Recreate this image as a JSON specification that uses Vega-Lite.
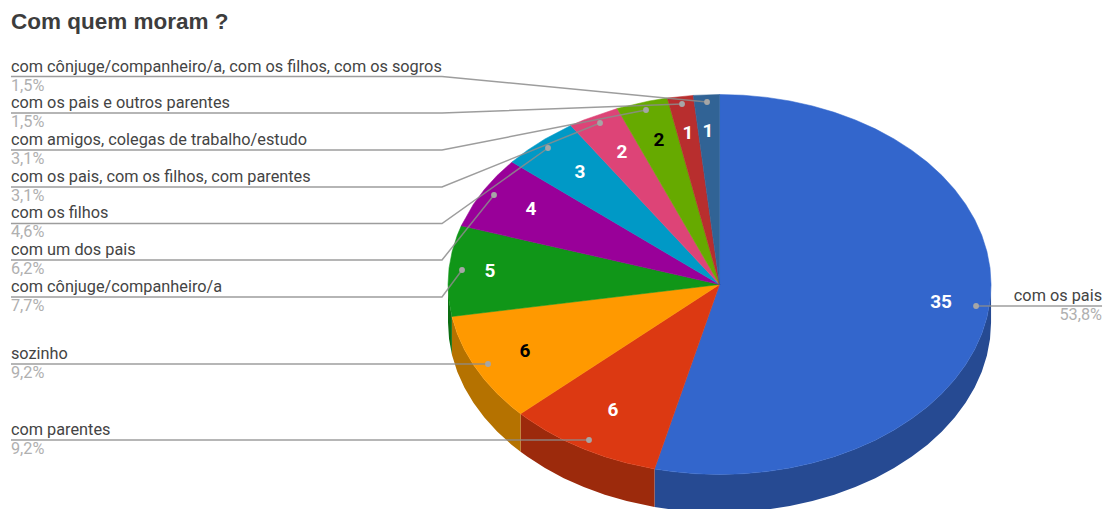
{
"$schema":"https://vega.github.io/schema/vega-lite/v6.json",
"width":1104,"height":509,"padding":0,"autosize":{"type":"none"},"background":"white",
"title":{"text":"Com quem moram ?","anchor":"start","frame":"group","orient":"top","offset":-51,"dx":11,"baseline":"alphabetic","font":"Liberation Sans","fontSize":22.5,"fontWeight":"bold","color":"#3d3d3d"},
"config":{"view":{"stroke":null}},
"datasets":{
"wall":[
{"s":"com os pais","x":1,"y":0,"y2":-0.2},{"s":"com os pais","x":0.9962,"y":-0.0872,"y2":-0.2872},{"s":"com os pais","x":0.9848,"y":-0.1736,"y2":-0.3736},{"s":"com os pais","x":0.9659,"y":-0.2588,"y2":-0.4588},{"s":"com os pais","x":0.9397,"y":-0.342,"y2":-0.542},{"s":"com os pais","x":0.9063,"y":-0.4226,"y2":-0.6226},{"s":"com os pais","x":0.866,"y":-0.5,"y2":-0.7},{"s":"com os pais","x":0.8192,"y":-0.5736,"y2":-0.7736},{"s":"com os pais","x":0.766,"y":-0.6428,"y2":-0.8428},{"s":"com os pais","x":0.7071,"y":-0.7071,"y2":-0.9071},{"s":"com os pais","x":0.6428,"y":-0.766,"y2":-0.966},{"s":"com os pais","x":0.5736,"y":-0.8192,"y2":-1.0192},{"s":"com os pais","x":0.5,"y":-0.866,"y2":-1.066},{"s":"com os pais","x":0.4226,"y":-0.9063,"y2":-1.1063},{"s":"com os pais","x":0.342,"y":-0.9397,"y2":-1.1397},{"s":"com os pais","x":0.2588,"y":-0.9659,"y2":-1.1659},{"s":"com os pais","x":0.1736,"y":-0.9848,"y2":-1.1848},{"s":"com os pais","x":0.0872,"y":-0.9962,"y2":-1.1962},{"s":"com os pais","x":0,"y":-1,"y2":-1.2},{"s":"com os pais","x":-0.0872,"y":-0.9962,"y2":-1.1962},{"s":"com os pais","x":-0.1736,"y":-0.9848,"y2":-1.1848},{"s":"com os pais","x":-0.2394,"y":-0.9709,"y2":-1.1709},
{"s":"com parentes","x":-0.2394,"y":-0.9709,"y2":-1.1709},{"s":"com parentes","x":-0.342,"y":-0.9397,"y2":-1.1397},{"s":"com parentes","x":-0.4226,"y":-0.9063,"y2":-1.1063},{"s":"com parentes","x":-0.5,"y":-0.866,"y2":-1.066},{"s":"com parentes","x":-0.5736,"y":-0.8192,"y2":-1.0192},{"s":"com parentes","x":-0.6428,"y":-0.766,"y2":-0.966},{"s":"com parentes","x":-0.7071,"y":-0.7071,"y2":-0.9071},{"s":"com parentes","x":-0.7327,"y":-0.6806,"y2":-0.8806},
{"s":"sozinho","x":-0.7327,"y":-0.6806,"y2":-0.8806},{"s":"sozinho","x":-0.766,"y":-0.6428,"y2":-0.8428},{"s":"sozinho","x":-0.8192,"y":-0.5736,"y2":-0.7736},{"s":"sozinho","x":-0.866,"y":-0.5,"y2":-0.7},{"s":"sozinho","x":-0.9063,"y":-0.4226,"y2":-0.6226},{"s":"sozinho","x":-0.9397,"y":-0.342,"y2":-0.542},{"s":"sozinho","x":-0.9659,"y":-0.2588,"y2":-0.4588},{"s":"sozinho","x":-0.9848,"y":-0.1736,"y2":-0.3736},{"s":"sozinho","x":-0.9857,"y":-0.1684,"y2":-0.3684},
{"s":"com cônjuge/companheiro/a","x":-0.9857,"y":-0.1684,"y2":-0.3684},{"s":"com cônjuge/companheiro/a","x":-0.9962,"y":-0.0872,"y2":-0.2872},{"s":"com cônjuge/companheiro/a","x":-1,"y":0,"y2":-0.2}
],
"top":[
{"s":"com os pais","a":-1,"x":0,"y":0},{"s":"com os pais","a":0,"x":0,"y":1},{"s":"com os pais","a":5,"x":0.0872,"y":0.9962},{"s":"com os pais","a":10,"x":0.1736,"y":0.9848},{"s":"com os pais","a":15,"x":0.2588,"y":0.9659},{"s":"com os pais","a":20,"x":0.342,"y":0.9397},{"s":"com os pais","a":25,"x":0.4226,"y":0.9063},{"s":"com os pais","a":30,"x":0.5,"y":0.866},{"s":"com os pais","a":35,"x":0.5736,"y":0.8192},{"s":"com os pais","a":40,"x":0.6428,"y":0.766},{"s":"com os pais","a":45,"x":0.7071,"y":0.7071},{"s":"com os pais","a":50,"x":0.766,"y":0.6428},{"s":"com os pais","a":55,"x":0.8192,"y":0.5736},{"s":"com os pais","a":60,"x":0.866,"y":0.5},{"s":"com os pais","a":65,"x":0.9063,"y":0.4226},{"s":"com os pais","a":70,"x":0.9397,"y":0.342},{"s":"com os pais","a":75,"x":0.9659,"y":0.2588},{"s":"com os pais","a":80,"x":0.9848,"y":0.1736},{"s":"com os pais","a":85,"x":0.9962,"y":0.0872},{"s":"com os pais","a":90,"x":1,"y":0},{"s":"com os pais","a":95,"x":0.9962,"y":-0.0872},{"s":"com os pais","a":100,"x":0.9848,"y":-0.1736},{"s":"com os pais","a":105,"x":0.9659,"y":-0.2588},{"s":"com os pais","a":110,"x":0.9397,"y":-0.342},{"s":"com os pais","a":115,"x":0.9063,"y":-0.4226},{"s":"com os pais","a":120,"x":0.866,"y":-0.5},{"s":"com os pais","a":125,"x":0.8192,"y":-0.5736},{"s":"com os pais","a":130,"x":0.766,"y":-0.6428},{"s":"com os pais","a":135,"x":0.7071,"y":-0.7071},{"s":"com os pais","a":140,"x":0.6428,"y":-0.766},{"s":"com os pais","a":145,"x":0.5736,"y":-0.8192},{"s":"com os pais","a":150,"x":0.5,"y":-0.866},{"s":"com os pais","a":155,"x":0.4226,"y":-0.9063},{"s":"com os pais","a":160,"x":0.342,"y":-0.9397},{"s":"com os pais","a":165,"x":0.2588,"y":-0.9659},{"s":"com os pais","a":170,"x":0.1736,"y":-0.9848},{"s":"com os pais","a":175,"x":0.0872,"y":-0.9962},{"s":"com os pais","a":180,"x":0,"y":-1},{"s":"com os pais","a":185,"x":-0.0872,"y":-0.9962},{"s":"com os pais","a":190,"x":-0.1736,"y":-0.9848},{"s":"com os pais","a":193.85,"x":-0.2394,"y":-0.9709},{"s":"com os pais","a":999,"x":0,"y":0},
{"s":"com parentes","a":-1,"x":0,"y":0},{"s":"com parentes","a":193.85,"x":-0.2394,"y":-0.9709},{"s":"com parentes","a":200,"x":-0.342,"y":-0.9397},{"s":"com parentes","a":205,"x":-0.4226,"y":-0.9063},{"s":"com parentes","a":210,"x":-0.5,"y":-0.866},{"s":"com parentes","a":215,"x":-0.5736,"y":-0.8192},{"s":"com parentes","a":220,"x":-0.6428,"y":-0.766},{"s":"com parentes","a":225,"x":-0.7071,"y":-0.7071},{"s":"com parentes","a":227.08,"x":-0.7327,"y":-0.6806},{"s":"com parentes","a":999,"x":0,"y":0},
{"s":"sozinho","a":-1,"x":0,"y":0},{"s":"sozinho","a":227.08,"x":-0.7327,"y":-0.6806},{"s":"sozinho","a":230,"x":-0.766,"y":-0.6428},{"s":"sozinho","a":235,"x":-0.8192,"y":-0.5736},{"s":"sozinho","a":240,"x":-0.866,"y":-0.5},{"s":"sozinho","a":245,"x":-0.9063,"y":-0.4226},{"s":"sozinho","a":250,"x":-0.9397,"y":-0.342},{"s":"sozinho","a":255,"x":-0.9659,"y":-0.2588},{"s":"sozinho","a":260.31,"x":-0.9857,"y":-0.1684},{"s":"sozinho","a":999,"x":0,"y":0},
{"s":"com cônjuge/companheiro/a","a":-1,"x":0,"y":0},{"s":"com cônjuge/companheiro/a","a":260.31,"x":-0.9857,"y":-0.1684},{"s":"com cônjuge/companheiro/a","a":265,"x":-0.9962,"y":-0.0872},{"s":"com cônjuge/companheiro/a","a":270,"x":-1,"y":0},{"s":"com cônjuge/companheiro/a","a":275,"x":-0.9962,"y":0.0872},{"s":"com cônjuge/companheiro/a","a":280,"x":-0.9848,"y":0.1736},{"s":"com cônjuge/companheiro/a","a":285,"x":-0.9659,"y":0.2588},{"s":"com cônjuge/companheiro/a","a":288,"x":-0.9511,"y":0.309},{"s":"com cônjuge/companheiro/a","a":999,"x":0,"y":0},
{"s":"com um dos pais","a":-1,"x":0,"y":0},{"s":"com um dos pais","a":288,"x":-0.9511,"y":0.309},{"s":"com um dos pais","a":295,"x":-0.9063,"y":0.4226},{"s":"com um dos pais","a":300,"x":-0.866,"y":0.5},{"s":"com um dos pais","a":305,"x":-0.8192,"y":0.5736},{"s":"com um dos pais","a":310.15,"x":-0.7643,"y":0.6448},{"s":"com um dos pais","a":999,"x":0,"y":0},
{"s":"com os filhos","a":-1,"x":0,"y":0},{"s":"com os filhos","a":310.15,"x":-0.7643,"y":0.6448},{"s":"com os filhos","a":315,"x":-0.7071,"y":0.7071},{"s":"com os filhos","a":320,"x":-0.6428,"y":0.766},{"s":"com os filhos","a":326.77,"x":-0.548,"y":0.8365},{"s":"com os filhos","a":999,"x":0,"y":0},
{"s":"com os pais, com os filhos, com parentes","a":-1,"x":0,"y":0},{"s":"com os pais, com os filhos, com parentes","a":326.77,"x":-0.548,"y":0.8365},{"s":"com os pais, com os filhos, com parentes","a":330,"x":-0.5,"y":0.866},{"s":"com os pais, com os filhos, com parentes","a":337.85,"x":-0.377,"y":0.9262},{"s":"com os pais, com os filhos, com parentes","a":999,"x":0,"y":0},
{"s":"com amigos, colegas de trabalho/estudo","a":-1,"x":0,"y":0},{"s":"com amigos, colegas de trabalho/estudo","a":337.85,"x":-0.377,"y":0.9262},{"s":"com amigos, colegas de trabalho/estudo","a":345,"x":-0.2588,"y":0.9659},{"s":"com amigos, colegas de trabalho/estudo","a":348.92,"x":-0.1922,"y":0.9814},{"s":"com amigos, colegas de trabalho/estudo","a":999,"x":0,"y":0},
{"s":"com os pais e outros parentes","a":-1,"x":0,"y":0},{"s":"com os pais e outros parentes","a":348.92,"x":-0.1922,"y":0.9814},{"s":"com os pais e outros parentes","a":354.46,"x":-0.0965,"y":0.9953},{"s":"com os pais e outros parentes","a":999,"x":0,"y":0},
{"s":"com cônjuge/companheiro/a, com os filhos, com os sogros","a":-1,"x":0,"y":0},{"s":"com cônjuge/companheiro/a, com os filhos, com os sogros","a":354.46,"x":-0.0965,"y":0.9953},{"s":"com cônjuge/companheiro/a, com os filhos, com os sogros","a":360,"x":0,"y":1},{"s":"com cônjuge/companheiro/a, com os filhos, com os sogros","a":999,"x":0,"y":0}
],
"leaders":[
{"s":"com os pais","k":0,"x":1.4088,"y":-0.1132},{"s":"com os pais","k":2,"x":0.9448,"y":-0.1132},
{"s":"com parentes","k":0,"x":-2.6096,"y":-0.8184},{"s":"com parentes","k":2,"x":-0.4807,"y":-0.8184},
{"s":"sozinho","k":0,"x":-2.6096,"y":-0.4184},{"s":"sozinho","k":2,"x":-0.8527,"y":-0.4184},
{"s":"com cônjuge/companheiro/a","k":0,"x":-2.6096,"y":-0.0658},{"s":"com cônjuge/companheiro/a","k":1,"x":-1.0221,"y":-0.0658},{"s":"com cônjuge/companheiro/a","k":2,"x":-0.9484,"y":0.0763},
{"s":"com um dos pais","k":0,"x":-2.6096,"y":0.1289},{"s":"com um dos pais","k":1,"x":-1.0221,"y":0.1289},{"s":"com um dos pais","k":2,"x":-0.8306,"y":0.4711},
{"s":"com os filhos","k":0,"x":-2.6096,"y":0.3211},{"s":"com os filhos","k":1,"x":-1.0221,"y":0.3211},{"s":"com os filhos","k":2,"x":-0.6317,"y":0.7184},
{"s":"com os pais, com os filhos, com parentes","k":0,"x":-2.6096,"y":0.5132},{"s":"com os pais, com os filhos, com parentes","k":1,"x":-1.0221,"y":0.5132},{"s":"com os pais, com os filhos, com parentes","k":2,"x":-0.4401,"y":0.85},
{"s":"com amigos, colegas de trabalho/estudo","k":0,"x":-2.6096,"y":0.7079},{"s":"com amigos, colegas de trabalho/estudo","k":1,"x":-1.0221,"y":0.7079},{"s":"com amigos, colegas de trabalho/estudo","k":2,"x":-0.2707,"y":0.9184},
{"s":"com os pais e outros parentes","k":0,"x":-2.6096,"y":0.9026},{"s":"com os pais e outros parentes","k":1,"x":-1.0221,"y":0.9026},{"s":"com os pais e outros parentes","k":2,"x":-0.1381,"y":0.95},
{"s":"com cônjuge/companheiro/a, com os filhos, com os sogros","k":0,"x":-2.6096,"y":1.0947},{"s":"com cônjuge/companheiro/a, com os filhos, com os sogros","k":1,"x":-1.0221,"y":1.0947},{"s":"com cônjuge/companheiro/a, com os filhos, com os sogros","k":2,"x":-0.046,"y":0.9605}
],
"slices":[
{"s":"com os pais","v":35,"pct":"53,8%","lx":1.4088,"ly":-0.1132,"dx":0.9448,"dy":-0.1132,"vx":0.8158,"vy":-0.0921,"ink":"w","side":"r"},
{"s":"com parentes","v":6,"pct":"9,2%","lx":-2.6096,"ly":-0.8184,"dx":-0.4807,"dy":-0.8184,"vx":-0.3923,"vy":-0.6605,"ink":"w","side":"l"},
{"s":"sozinho","v":6,"pct":"9,2%","lx":-2.6096,"ly":-0.4184,"dx":-0.8527,"dy":-0.4184,"vx":-0.7164,"vy":-0.35,"ink":"k","side":"l"},
{"s":"com cônjuge/companheiro/a","v":5,"pct":"7,7%","lx":-2.6096,"ly":-0.0658,"dx":-0.9484,"dy":0.0763,"vx":-0.8453,"vy":0.0711,"ink":"w","side":"l"},
{"s":"com um dos pais","v":4,"pct":"6,2%","lx":-2.6096,"ly":0.1289,"dx":-0.8306,"dy":0.4711,"vx":-0.6943,"vy":0.3974,"ink":"w","side":"l"},
{"s":"com os filhos","v":3,"pct":"4,6%","lx":-2.6096,"ly":0.3211,"dx":-0.6317,"dy":0.7184,"vx":-0.5138,"vy":0.5921,"ink":"w","side":"l"},
{"s":"com os pais, com os filhos, com parentes","v":2,"pct":"3,1%","lx":-2.6096,"ly":0.5132,"dx":-0.4401,"dy":0.85,"vx":-0.3591,"vy":0.6974,"ink":"w","side":"l"},
{"s":"com amigos, colegas de trabalho/estudo","v":2,"pct":"3,1%","lx":-2.6096,"ly":0.7079,"dx":-0.2707,"dy":0.9184,"vx":-0.2228,"vy":0.7605,"ink":"k","side":"l"},
{"s":"com os pais e outros parentes","v":1,"pct":"1,5%","lx":-2.6096,"ly":0.9026,"dx":-0.1381,"dy":0.95,"vx":-0.116,"vy":0.7974,"ink":"w","side":"l"},
{"s":"com cônjuge/companheiro/a, com os filhos, com os sogros","v":1,"pct":"1,5%","lx":-2.6096,"ly":1.0947,"dx":-0.046,"dy":0.9605,"vx":-0.0424,"vy":0.8079,"ink":"w","side":"l"}
]
},
"layer":[
{"data":{"name":"wall"},
 "mark":{"type":"area","clip":true},
 "encoding":{
  "x":{"field":"x","type":"quantitative","axis":null,"scale":{"domain":[-2.65,1.416],"nice":false,"zero":false}},
  "y":{"field":"y","type":"quantitative","axis":null,"scale":{"domain":[-1.1816,1.4974],"nice":false,"zero":false}},
  "y2":{"field":"y2"},
  "detail":{"field":"s"},
  "fill":{"field":"s","type":"nominal","legend":null,"scale":{"name":"walls","domain":["com os pais","com parentes","sozinho","com cônjuge/companheiro/a"],"range":["#264a92","#9c2a0c","#b57200","#0c6e12"]}}
 }},
{"data":{"name":"top"},
 "mark":{"type":"line","strokeWidth":0.6,"strokeOpacity":0.9},
 "encoding":{
  "x":{"field":"x","type":"quantitative"},
  "y":{"field":"y","type":"quantitative"},
  "order":{"field":"a","type":"quantitative"},
  "detail":{"field":"s"},
  "fill":{"field":"s","type":"nominal","legend":null,"scale":{"domain":["com os pais","com parentes","sozinho","com cônjuge/companheiro/a","com um dos pais","com os filhos","com os pais, com os filhos, com parentes","com amigos, colegas de trabalho/estudo","com os pais e outros parentes","com cônjuge/companheiro/a, com os filhos, com os sogros"],"range":["#3366cc","#dc3912","#ff9900","#109618","#990099","#0099c6","#dd4477","#66aa00","#b82e2e","#316395"]}},
  "stroke":{"field":"s","type":"nominal","legend":null,"scale":{"domain":["com os pais","com parentes","sozinho","com cônjuge/companheiro/a","com um dos pais","com os filhos","com os pais, com os filhos, com parentes","com amigos, colegas de trabalho/estudo","com os pais e outros parentes","com cônjuge/companheiro/a, com os filhos, com os sogros"],"range":["#3366cc","#dc3912","#ff9900","#109618","#990099","#0099c6","#dd4477","#66aa00","#b82e2e","#316395"]}}
 }},
{"data":{"name":"leaders"},
 "mark":{"type":"line","stroke":"#8c8c8c","strokeWidth":1.5,"opacity":0.85},
 "encoding":{
  "x":{"field":"x","type":"quantitative"},
  "y":{"field":"y","type":"quantitative"},
  "order":{"field":"k","type":"quantitative"},
  "detail":{"field":"s"}
 }},
{"data":{"name":"slices"},
 "mark":{"type":"point","filled":true,"size":34,"color":"#a6a6a6","opacity":1},
 "encoding":{
  "x":{"field":"dx","type":"quantitative"},
  "y":{"field":"dy","type":"quantitative"}
 }},
{"data":{"name":"slices"},
 "mark":{"type":"text","font":"Roboto","fontSize":19,"fontWeight":"bold","align":"center","baseline":"middle"},
 "encoding":{
  "x":{"field":"vx","type":"quantitative"},
  "y":{"field":"vy","type":"quantitative"},
  "text":{"field":"v","type":"quantitative"},
  "color":{"field":"ink","type":"nominal","legend":null,"scale":{"domain":["w","k"],"range":["#ffffff","#000000"]}}
 }},
{"data":{"name":"slices"},
 "transform":[{"filter":"datum.side=='l'"}],
 "mark":{"type":"text","font":"Roboto","fontSize":16.3,"align":"left","baseline":"alphabetic","dy":-5,"color":"#444444"},
 "encoding":{"x":{"field":"lx","type":"quantitative"},"y":{"field":"ly","type":"quantitative"},"text":{"field":"s"}}},
{"data":{"name":"slices"},
 "transform":[{"filter":"datum.side=='l'"}],
 "mark":{"type":"text","font":"Roboto","fontSize":16.3,"align":"left","baseline":"alphabetic","dy":14,"color":"#b0b0b0"},
 "encoding":{"x":{"field":"lx","type":"quantitative"},"y":{"field":"ly","type":"quantitative"},"text":{"field":"pct"}}},
{"data":{"name":"slices"},
 "transform":[{"filter":"datum.side=='r'"}],
 "mark":{"type":"text","font":"Roboto","fontSize":16.3,"align":"right","baseline":"alphabetic","dy":-5,"color":"#444444"},
 "encoding":{"x":{"field":"lx","type":"quantitative"},"y":{"field":"ly","type":"quantitative"},"text":{"field":"s"}}},
{"data":{"name":"slices"},
 "transform":[{"filter":"datum.side=='r'"}],
 "mark":{"type":"text","font":"Roboto","fontSize":16.3,"align":"right","baseline":"alphabetic","dy":14,"color":"#b0b0b0"},
 "encoding":{"x":{"field":"lx","type":"quantitative"},"y":{"field":"ly","type":"quantitative"},"text":{"field":"pct"}}}
],
"resolve":{"scale":{"fill":"independent","color":"independent"}}
}
